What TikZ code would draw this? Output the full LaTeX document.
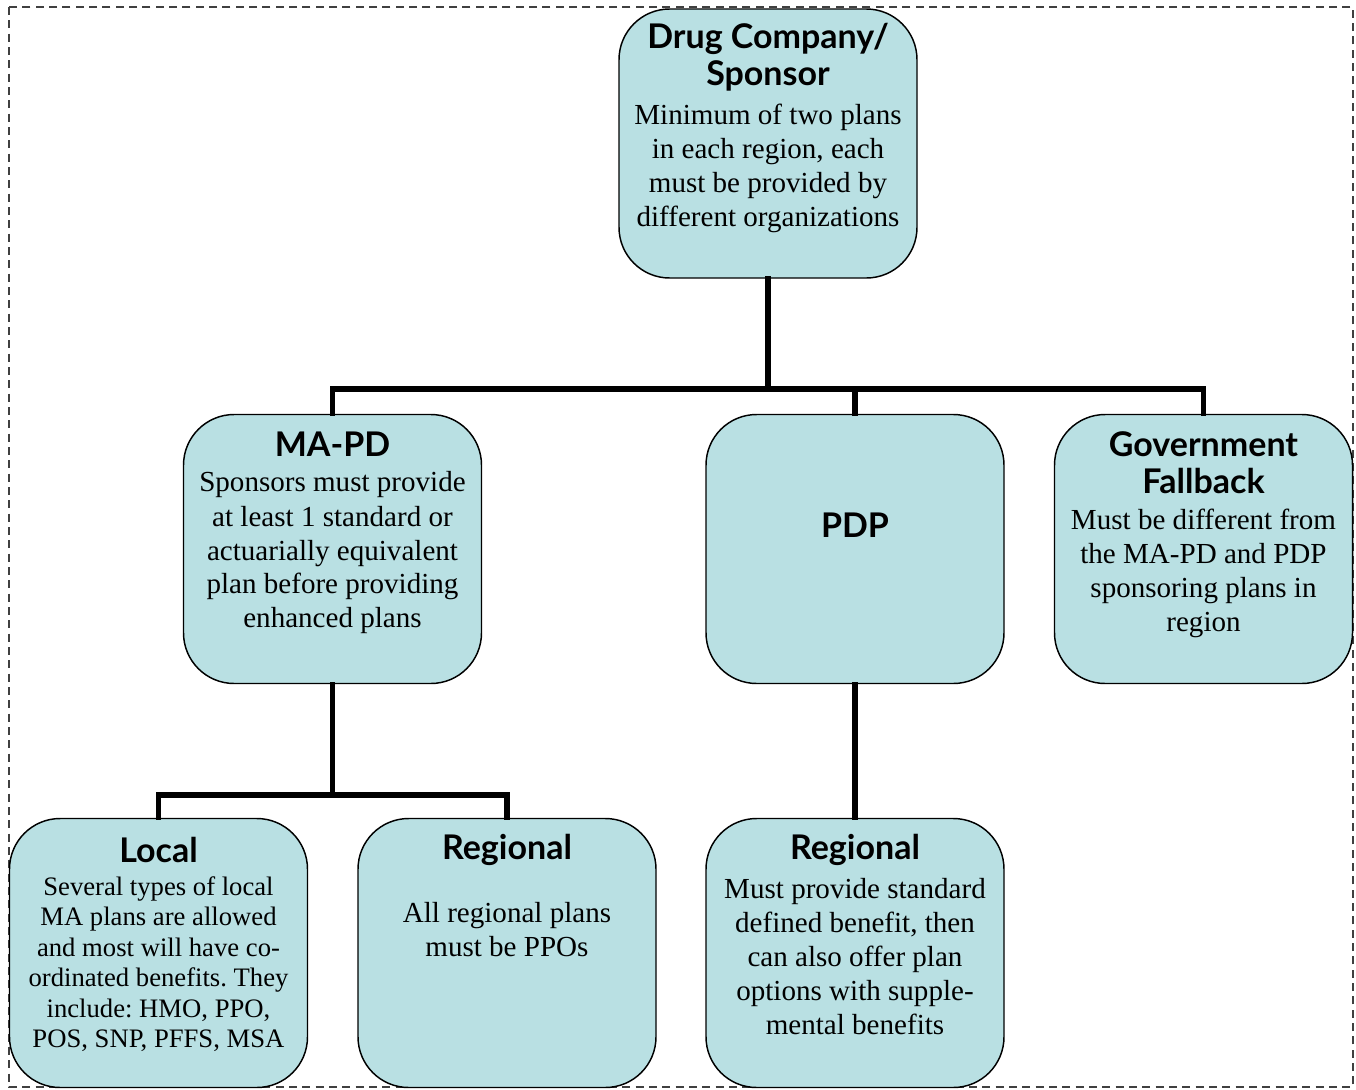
\documentclass[tikz,border=0pt]{standalone}
\usepackage{fontspec}
\setmainfont{Liberation Serif}
\newfontfamily\titlefam{Lato}
\frenchspacing
\definecolor{boxfill}{RGB}{185,224,227}
\tikzset{
  x=0.75pt, y=-0.75pt,
  box/.style={draw=black, fill=boxfill, line width=1.1pt, rounded corners=38pt,
    minimum width=298*0.75pt, minimum height=269*0.75pt, inner sep=0pt},
  conn/.style={line width=3.8pt, line cap=rect},
  ttl/.style={inner sep=0pt, align=center, font=\titlefam\bfseries\fontsize{25.5pt}{27.75pt}\selectfont},
  bdy/.style={inner sep=0pt, align=center, font=\fontsize{21.8pt}{25.5pt}\selectfont},
  bdys/.style={inner sep=0pt, align=center, font=\fontsize{20pt}{22.9pt}\selectfont},
}
\begin{document}
\begin{tikzpicture}
\useasboundingbox (0,0) rectangle (1356,1089);
\draw[black!75, line width=1pt, dash pattern=on 6pt off 4pt] (9,7) rectangle (1353,1087);

\coordinate (bus) at (0,389);
\coordinate (bus2) at (0,795);

\node[box] (top) at (768,143.5) {};
\node[box] (mapd) at (332.5,549) {};
\node[box] (pdp) at (855,549) {};
\node[box] (gov) at (1203.5,549) {};
\node[box] (local) at (158.5,953) {};
\node[box] (regional) at (507,953) {};
\node[box] (regpdp) at (855,953) {};

\draw[conn] (top.south) -- (top.south |- bus);
\draw[conn] (mapd.north) -- (mapd.north |- bus) -- (gov.north |- bus) -- (gov.north);
\draw[conn] (pdp.north |- bus) -- (pdp.north);
\draw[conn] (mapd.south) -- (mapd.south |- bus2);
\draw[conn] (local.north) -- (local.north |- bus2) -- (regional.north |- bus2) -- (regional.north);
\draw[conn] (pdp.south) -- (regpdp.north);

\node[ttl] (topT) at (768,57.5) {Drug Company/\\Sponsor};
\node[bdy] (topB) at (768,168) {Minimum of two plans\\in each region, each\\must be provided by\\different organizations};

\node[ttl] (mapdT) at (332.5,444) {MA-PD};
\node[bdy] (mapdB) at (332.5,553) {Sponsors must provide\\at least 1 standard or\\actuarially equivalent\\plan before providing\\enhanced plans};

\node[ttl] (pdpT) at (855,525) {PDP};

\node[ttl] (govT) at (1203.5,462.5) {Government\\Fallback};
\node[bdy] (govB) at (1203.5,573) {Must be different from\\the MA-PD and PDP\\sponsoring plans in\\region};

\node[ttl] (localT) at (158.5,850) {Local};
\node[bdys] (localB) at (158.5,964) {Several types of local\\MA plans are allowed\\and most will have co-\\ordinated benefits. They\\include: HMO, PPO,\\POS, SNP, PFFS, MSA};

\node[ttl] (regT) at (507,850) {Regional};
\node[bdy] (regB) at (507,930) {All regional plans\\must be PPOs};

\node[ttl] (regpdpT) at (855,850) {Regional};
\node[bdy] (regpdpB) at (855,957) {Must provide standard\\defined benefit, then\\can also offer plan\\options with supple-\\mental benefits};
\end{tikzpicture}
\end{document}
